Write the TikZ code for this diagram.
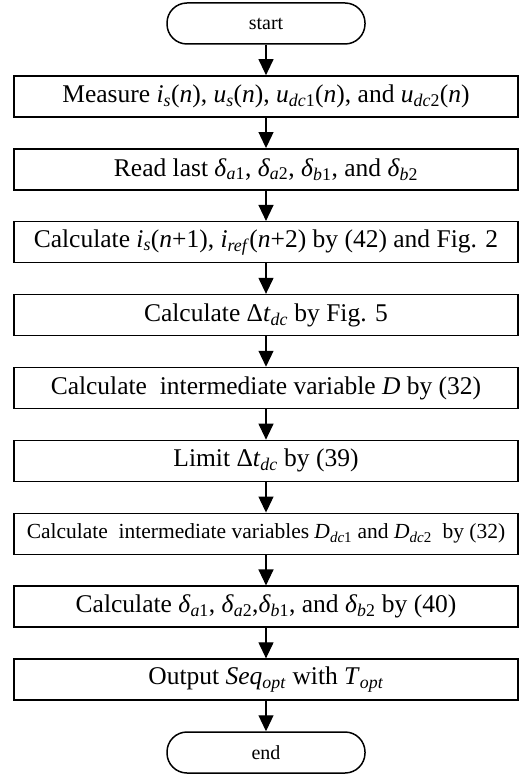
\documentclass[tikz,border=0pt]{standalone}
\usepackage{fontspec}
\setmainfont{Liberation Serif}
\usetikzlibrary{arrows.meta}
\newcommand{\sbs}[1]{\textsubscript{#1}}
\begin{document}
\begin{tikzpicture}[x=1pt,y=-1pt,
 proc/.style={draw, line width=1.5pt, minimum width=504pt, minimum height=41pt, inner sep=0pt, font=\fontsize{25.5}{30}\selectfont},
 procsmall/.style={proc, font=\fontsize{21.5}{25}\selectfont},
 term/.style={draw, line width=1.5pt, rounded corners=20pt, minimum width=198pt, minimum height=41pt, inner sep=0pt, font=\fontsize{20}{24}\selectfont},
 flow/.style={line width=1.2pt, -{Triangle[width=15pt,length=16pt]}}]
\useasboundingbox (0,0) rectangle (522,775);
\node[term] (start) at (266,23.5) {start};
\node[proc] (meas) at (266,96.4) {Measure \textit{i}\sbs{\textit{s}}(\textit{n}), \textit{u}\sbs{\textit{s}}(\textit{n}), \textit{u}\sbs{\textit{dc}1}(\textit{n}), and \textit{u}\sbs{\textit{dc}2}(\textit{n})};
\node[proc] (read) at (266,169.3) {Read last \textit{δ}\sbs{\textit{a}1}, \textit{δ}\sbs{\textit{a}2}, \textit{δ}\sbs{\textit{b}1}, and \textit{δ}\sbs{\textit{b}2}};
\node[proc] (calc) at (266,242.2) {Calculate \textit{i}\sbs{\textit{s}}(\textit{n}+1), \textit{i}\sbs{\textit{ref}}(\textit{n}+2) by (42) and Fig. 2};
\node[proc] (dt) at (266,315.1) {Calculate Δ\textit{t}\sbs{\textit{dc}} by Fig. 5};
\node[proc] (dvar) at (266,388) {Calculate\ \ intermediate variable \textit{D} by (32)};
\node[proc] (lim) at (266,460.9) {Limit Δ\textit{t}\sbs{\textit{dc}} by (39)};
\node[procsmall] (dvars) at (266,533.8) {Calculate\ \ intermediate variables \textit{D}\sbs{\textit{dc}1} and \textit{D}\sbs{\textit{dc}2}\ \ by (32)};
\node[proc] (delta) at (266,606.7) {Calculate \textit{δ}\sbs{\textit{a}1}, \textit{δ}\sbs{\textit{a}2},\textit{δ}\sbs{\textit{b}1}, and \textit{δ}\sbs{\textit{b}2} by (40)};
\node[proc] (out) at (266,679.6) {Output \textit{Seq}\sbs{\textit{opt}} with \textit{T}\sbs{\textit{opt}}};
\node[term] (end) at (266,752.5) {end};
\draw[flow] (start) -- (meas);
\draw[flow] (meas) -- (read);
\draw[flow] (read) -- (calc);
\draw[flow] (calc) -- (dt);
\draw[flow] (dt) -- (dvar);
\draw[flow] (dvar) -- (lim);
\draw[flow] (lim) -- (dvars);
\draw[flow] (dvars) -- (delta);
\draw[flow] (delta) -- (out);
\draw[flow] (out) -- (end);
\end{tikzpicture}
\end{document}
